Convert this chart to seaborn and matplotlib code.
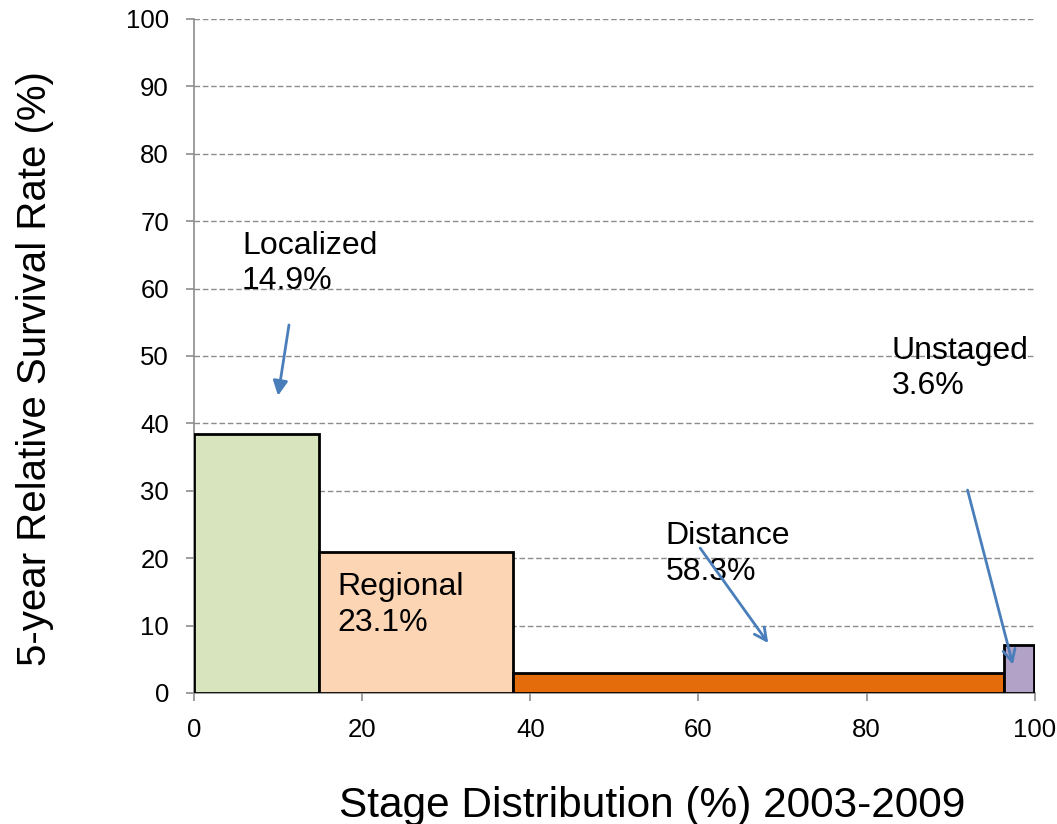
import matplotlib
matplotlib.use('Agg')
import matplotlib.pyplot as plt
import seaborn as sns
import numpy as np

# DATA
stages = ['Localized', 'Regional', 'Distance', 'Unstaged']
distribution = [14.9, 23.1, 58.3, 3.6]        # bar widths (% of cases)
survival = [38.4, 20.9, 2.9, 7.1]             # bar heights (5-yr survival %)
colors = ['#D7E4BD', '#FCD5B5', '#E46C0A', '#B3A2C7']
xticks = [0, 20, 40, 60, 80, 100]
yticks = [0, 10, 20, 30, 40, 50, 60, 70, 80, 90, 100]

# label text positions and arrows (start -> end), data coords
label_pos = [(5.7, 68.6), (17.1, 17.9), (56.1, 25.5), (83.0, 53.0)]
arrow_from = [(11.3, 54.6), None, (60.2, 21.5), (92.0, 30.1)]
arrow_to = [(10.0, 44.1), None, (68.3, 7.4), (97.4, 4.2)]
arrow_style = ['-|>', None, '->', '->']

sns.set_style('white')
plt.rcParams['font.family'] = ['Liberation Sans', 'DejaVu Sans']
plt.rcParams['text.color'] = 'black'
plt.rcParams['axes.labelcolor'] = 'black'

fig = plt.figure(figsize=(10.57, 8.24), dpi=100)
ax = fig.add_axes([0.1835, 0.159, 0.7955, 0.818])

edges = np.concatenate([[0], np.cumsum(distribution)])
for i, stage in enumerate(stages):
    left, right = edges[i], edges[i + 1]
    sns.histplot(x=[(left + right) / 2], weights=[survival[i]], bins=[left, right],
                 color=colors[i], edgecolor='black', linewidth=2, alpha=1,
                 ax=ax, zorder=3)

ax.set_xlim(0, 100)
ax.set_ylim(0, 100)
ax.set_xticks(xticks)
ax.set_yticks(yticks)
ax.yaxis.grid(True, linestyle=(0, (4, 2)), color='#8c8c8c', linewidth=1)
ax.set_axisbelow(True)
sns.despine(ax=ax)
for sp in ['left', 'bottom']:
    ax.spines[sp].set_color('#8c8c8c')
    ax.spines[sp].set_linewidth(1.2)
ax.tick_params(axis='both', which='major', length=6, width=1.2, color='#8c8c8c',
               labelsize=18.5, labelcolor='black', direction='out', pad=12,
               bottom=True, left=True)

ax.set_xlabel('Stage Distribution (%) 2003-2009', fontsize=30.5)
ax.set_ylabel('5-year Relative Survival Rate (%)', fontsize=29)
ax.xaxis.set_label_coords(0.545, -0.138)
ax.yaxis.set_label_coords(-0.166, 0.482)

for i, stage in enumerate(stages):
    tx, ty = label_pos[i]
    ax.text(tx, ty, f'{stage}\n{distribution[i]}%', fontsize=23, va='top', ha='left',
            linespacing=1.25, zorder=5)
    if arrow_from[i] is not None:
        ax.annotate('', xy=arrow_to[i], xytext=arrow_from[i],
                    arrowprops=dict(arrowstyle=arrow_style[i], color='#4A7EBB',
                                    lw=2, mutation_scale=22, shrinkA=0, shrinkB=0),
                    zorder=6)

fig.savefig('out.png', dpi=100)
